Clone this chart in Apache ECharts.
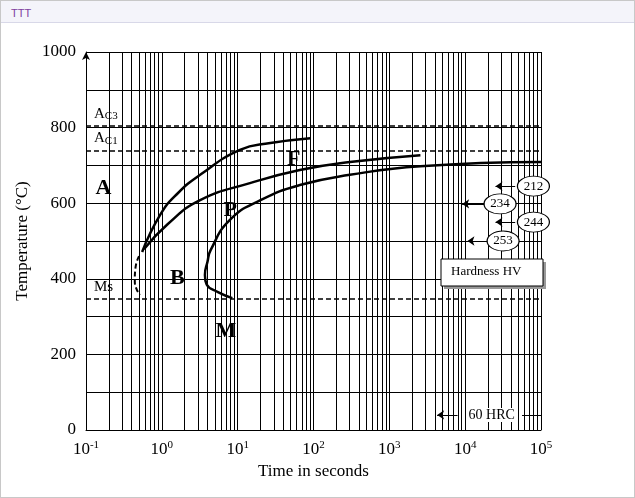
<!DOCTYPE html>
<html>
<head>
<meta charset="UTF-8" />
<script src="https://cdn.jsdelivr.net/npm/echarts@6/dist/echarts.min.js"></script>
<style>
  body { margin: 0; }
  #frame { position: absolute; left: 0; top: 0; width: 633px; height: 496px; border: 1px solid #c8c8c8; }
  #bar { height: 22px; border-bottom: 1px solid #d8d8e8; background: #f4f4fa; font: 11px sans-serif; color: #8040a0; padding: 6px 0 0 10px; box-sizing: border-box; }
</style>
</head>
<body>
<div id="frame"><div id="bar">TTT</div></div>
<div id="main" style="position:absolute;left:0;top:0;width:635px;height:498px"></div>
<script>
const curveF = [[0.55, 471], [0.95, 569], [1.6, 625], [3.2, 675], [10.7, 741], [27, 759], [91, 772]];
const curveP = [[0.58, 478], [1.2, 545], [3.2, 608], [14.5, 653], [66, 688], [302, 709], [2570, 727]];
const curveM = [[8.5, 349], [5.5, 365], [3.9, 385], [3.7, 410], [4.0, 445], [4.4, 476], [7.9, 556], [20, 608], [66, 648], [302, 675], [2570, 698], [100000, 709]];
const bStart = [[0.5, 460], [0.45, 430], [0.44, 395], [0.47, 370], [0.52, 358]];
const tempAc3 = 804, tempAc1 = 738, tempMs = 347;
const regionLabels = [['A', 0.17, 640], ['F', 55, 715], ['P', 8, 580], ['B', 1.6, 400], ['M', 7, 262]];
const hardness = [['212', 10 ** 4.9, 645, 10 ** 4.66, 10 ** 4.4], ['234', 10 ** 4.46, 598, 10 ** 4.26, 10 ** 3.96],
  ['244', 10 ** 4.9, 550, 10 ** 4.66, 10 ** 4.4], ['253', 10 ** 4.5, 500, 10 ** 4.26, 10 ** 4.03]];

const font = 'Liberation Serif';
const sup = { fontSize: 11, verticalAlign: 'top', padding: [0, 0, 8, 0], fontFamily: font, color: '#000' };
const minorLines = [];
for (let d = -1; d < 5; d++) for (let k = 2; k <= 9; k++) minorLines.push({ xAxis: k * 10 ** d });
const black = { color: '#000', width: 1 };

const chart = echarts.init(document.getElementById('main'));
chart.setOption({
  animation: false,
  textStyle: { fontFamily: font },
  grid: { left: 86, right: 94, top: 52, bottom: 68 },
  xAxis: {
    type: 'log', min: 0.1, max: 100000, logBase: 10,
    name: 'Time in seconds', nameLocation: 'middle', nameGap: 30,
    nameTextStyle: { fontSize: 17, color: '#000', fontFamily: font },
    axisLine: { lineStyle: black }, axisTick: { show: false },
    splitLine: { lineStyle: black },
    axisLabel: {
      color: '#000', fontSize: 17, fontFamily: font, margin: 10,
      formatter: v => '10{s|' + Math.round(Math.log10(v)) + '}',
      rich: { s: sup }
    }
  },
  yAxis: {
    type: 'value', min: 0, max: 1000, interval: 100,
    name: 'Temperature (°C)', nameLocation: 'middle', nameGap: 46,
    nameTextStyle: { fontSize: 17, color: '#000', fontFamily: font },
    axisLine: { lineStyle: black, symbol: ['none', 'arrow'], symbolSize: [6, 8] },
    axisTick: { show: false },
    splitLine: { lineStyle: black },
    axisLabel: { color: '#000', fontSize: 17, fontFamily: font, margin: 10,
      formatter: v => v % 200 === 0 ? v : '' }
  },
  graphic: [
    { type: 'rect', z: 100, shape: { x: 444, y: 262, width: 102, height: 27 }, style: { fill: '#999' } },
    { type: 'rect', z: 101, shape: { x: 441, y: 259, width: 102, height: 27 }, style: { fill: '#fff', stroke: '#000', lineWidth: 1 } },
    { type: 'text', z: 102, x: 451, y: 265, style: { text: 'Hardness HV', fontSize: 13, fontFamily: font, fill: '#000' } }
  ],
  series: [
    { type: 'line', data: [], markLine: { silent: true, symbol: 'none', label: { show: false },
        lineStyle: { color: '#000', width: 1, type: 'solid' }, data: minorLines } },
    { type: 'line', data: [], markLine: { silent: true, symbol: 'none',
        lineStyle: { color: '#000', width: 1.6, type: [5, 3] },
        label: { position: 'insideStartTop', color: '#000', fontSize: 15, fontFamily: font, distance: [8, 4], rich: { s: { fontSize: 11, fontFamily: font, padding: [6, 0, 0, 0] } } },
        data: [
          { yAxis: tempAc3, label: { formatter: 'A{s|C3}' } },
          { yAxis: tempAc1, label: { formatter: 'A{s|C1}' } },
          { yAxis: tempMs, label: { formatter: 'Ms' } }
        ] } },
    { type: 'line', data: curveF, smooth: true, symbol: 'none', lineStyle: { color: '#000', width: 2.5 } },
    { type: 'line', data: curveP, smooth: true, symbol: 'none', lineStyle: { color: '#000', width: 2.5 } },
    { type: 'line', data: curveM, smooth: true, symbol: 'none', lineStyle: { color: '#000', width: 2.5 } },
    { type: 'line', data: bStart, smooth: true, symbol: 'none', lineStyle: { color: '#000', width: 2, type: [5, 3] } },
    { type: 'scatter', symbolSize: 0, itemStyle: { opacity: 1 }, z: 6, data: regionLabels.map(r => ({ value: [r[1], r[2]], name: r[0] })),
      label: { show: true, formatter: '{b}', color: '#000', fontSize: 22, fontWeight: 'bold', fontFamily: font } },
    { type: 'line', data: [], markLine: { silent: true, symbol: ['arrow', 'none'], symbolSize: 7,
        lineStyle: { color: '#000', width: 1, type: 'solid' }, label: { show: false },
        data: hardness.map(h => [{ coord: [h[4], h[2]] }, { coord: [h[3], h[2]] }]).concat([
          [{ coord: [10 ** 3.63, 40] }, { coord: [10 ** 3.9, 40] }],
          [{ coord: [10 ** 4.75, 40], symbol: 'none' }, { coord: [100000, 40], symbol: 'none' }]
        ]) } },
    { type: 'line', data: [], markLine: { silent: true, symbol: 'none', label: { show: false },
        lineStyle: { color: '#000', width: 1, type: 'solid' },
        data: [[{ coord: [10 ** 3.6, 0] }, { coord: [10 ** 3.6, 80] }]] } },
    { type: 'scatter', symbol: 'circle', symbolSize: [32, 20],
      itemStyle: { color: '#fff', borderColor: '#000', borderWidth: 1, opacity: 1 },
      data: hardness.map(h => ({ value: [h[1], h[2]], name: h[0] })),
      label: { show: true, formatter: '{b}', color: '#000', fontSize: 13, fontFamily: font }, z: 5 },
    { type: 'scatter', symbolSize: 0, itemStyle: { opacity: 1 }, z: 6, data: [{ value: [10 ** 4.35, 40], name: '60 HRC' }],
      label: { show: true, formatter: '{b}', color: '#000', fontSize: 14, fontFamily: font, backgroundColor: '#fff' } }
  ]
});
</script>
</body>
</html>
